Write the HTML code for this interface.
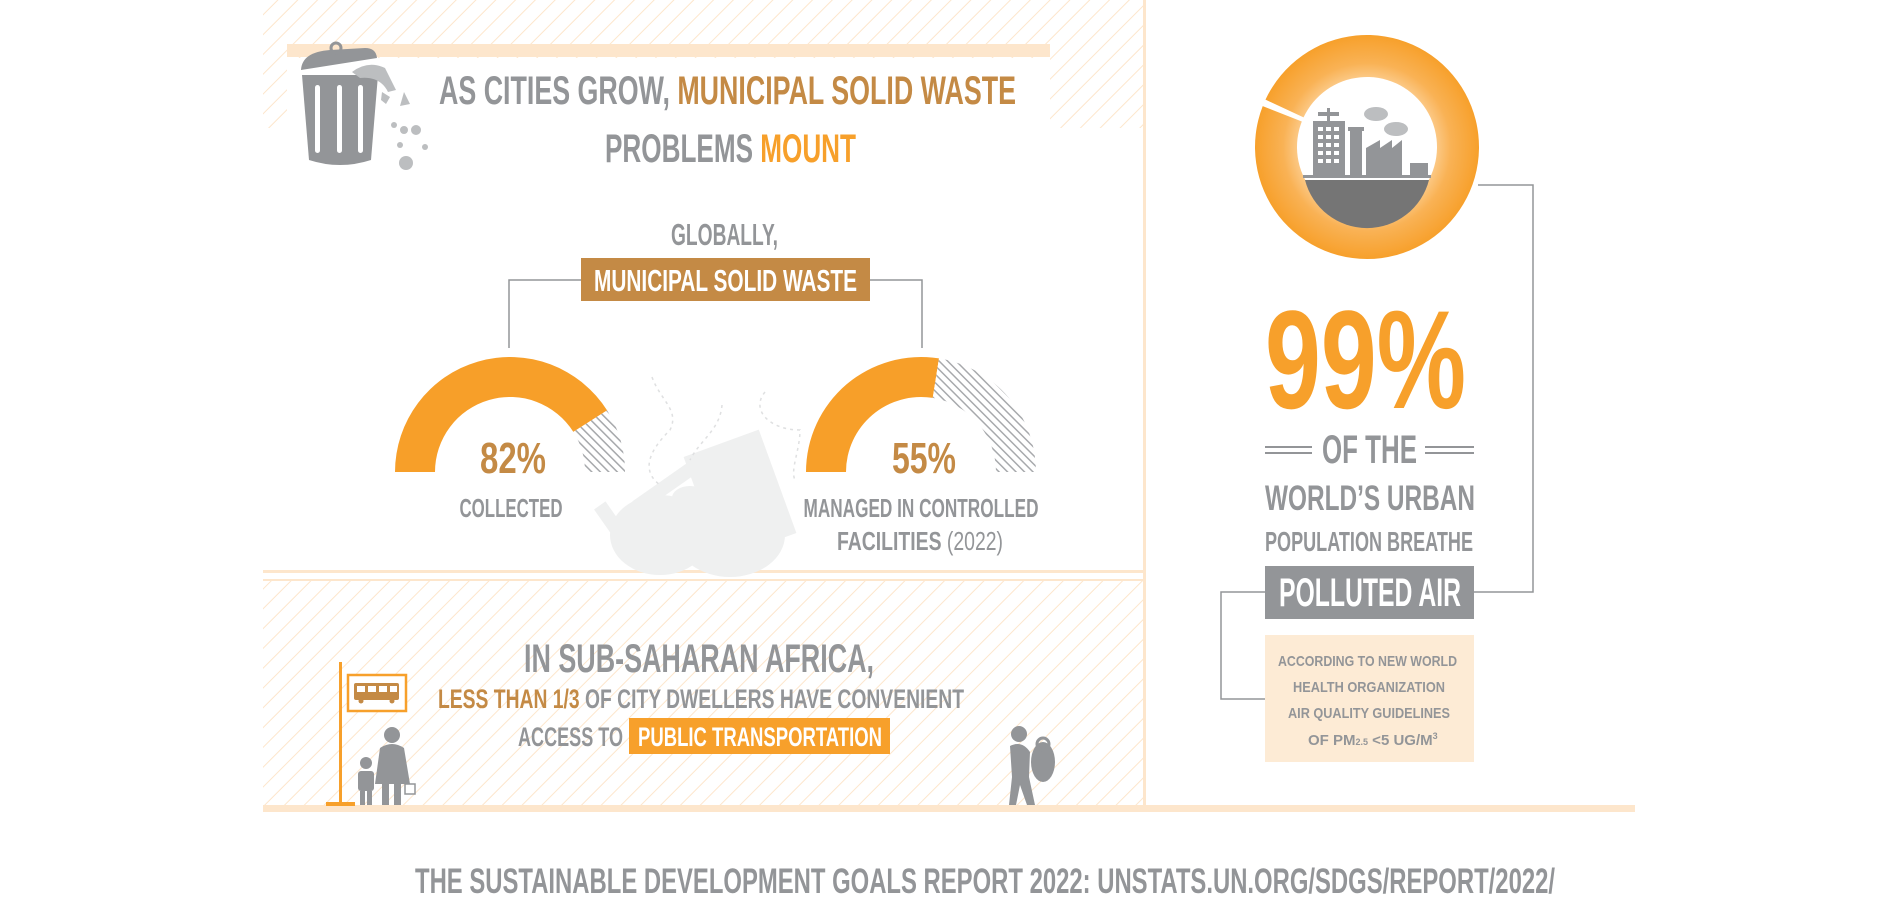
<!DOCTYPE html>
<html><head><meta charset="utf-8">
<style>
html,body{margin:0;padding:0;background:#fff;width:1895px;height:897px;overflow:hidden}
svg{display:block}
text{font-family:"Liberation Sans Narrow","Liberation Sans",sans-serif;font-weight:bold}
</style></head>
<body>
<svg id="chart" width="1895" height="897" viewBox="0 0 1895 897" xmlns="http://www.w3.org/2000/svg">
<defs>
<pattern id="hatchCream" patternUnits="userSpaceOnUse" width="14" height="14" patternTransform="rotate(45)">
<line x1="0" y1="0" x2="0" y2="14" stroke="#fde6cc" stroke-width="2"/>
</pattern>
<pattern id="hatchGray" patternUnits="userSpaceOnUse" width="6" height="6" patternTransform="rotate(-45)">
<rect width="6" height="6" fill="#fff"/>
<line x1="0" y1="0" x2="0" y2="6" stroke="#a7a9ac" stroke-width="3"/>
</pattern>
<radialGradient id="donutGrad" cx="0.5" cy="0.5" r="0.5">
<stop offset="0.55" stop-color="#fdd5a0"/>
<stop offset="0.75" stop-color="#f9b255"/>
<stop offset="1" stop-color="#f7a02b"/>
</radialGradient>
</defs>

<rect x="263" y="0" width="882" height="128" fill="url(#hatchCream)"/>
<rect x="287" y="58" width="763" height="72" fill="#fff"/>
<rect x="287" y="44" width="763" height="13" fill="#fde6cc"/>
<rect x="263" y="580" width="882" height="226" fill="url(#hatchCream)"/>
<rect x="263" y="570" width="882" height="3" fill="#fde6cc"/>
<rect x="263" y="579" width="882" height="2" fill="#fde6cc"/>
<rect x="1143" y="0" width="3" height="806" fill="#fde6cc"/>
<rect x="263" y="805" width="1372" height="7" fill="#fde6cc"/>

<g fill="#eff0f0">
<rect x="700" y="440" width="80" height="110" transform="rotate(-20 740 495)"/>
<rect x="630" y="480" width="70" height="14" transform="rotate(-35 665 487)"/>
<rect x="610" y="500" width="14" height="60" transform="rotate(-35 617 530)"/>
<ellipse cx="660" cy="535" rx="50" ry="40"/>
<ellipse cx="730" cy="535" rx="55" ry="42"/>
<ellipse cx="690" cy="498" rx="18" ry="12"/>
<ellipse cx="745" cy="485" rx="18" ry="12"/>
</g>
<g fill="none" stroke="#dfe0e1" stroke-width="1.5" stroke-dasharray="3 4">
<path d="M652 377 C660 400 680 410 670 430 C650 450 640 470 660 485"/>
<path d="M722 405 C720 430 700 440 690 460"/>
<path d="M765 392 C750 410 770 430 800 430 C800 450 790 470 795 480"/>
</g>

<g>
<path d="M302 75 L378 75 L371 160 Q340 170 309 160 Z" fill="#939598"/>
<rect x="315" y="85" width="5" height="68" rx="2.5" fill="#fff"/>
<rect x="337" y="85" width="5" height="68" rx="2.5" fill="#fff"/>
<rect x="358" y="85" width="5" height="68" rx="2.5" fill="#fff"/>
<path d="M301 70 Q302 52 330 50 L365 48 Q376 48 377 58 Z" fill="#939598"/>
<circle cx="336" cy="48" r="5" fill="none" stroke="#939598" stroke-width="3"/>
<g fill="#bcbec0">
<path d="M352 72 Q368 60 385 68 L396 90 L388 92 Q380 76 360 78 Z"/>
<path d="M382 92 L390 97 L386 104 L381 100 Z"/><path d="M404 92 L410 104 L400 106 Z"/>
<circle cx="394" cy="125" r="3"/><circle cx="404" cy="130" r="4"/><circle cx="416" cy="130" r="5"/>
<circle cx="400" cy="145" r="3"/><circle cx="425" cy="147" r="3"/><circle cx="406" cy="163" r="7"/>
</g>
</g>

<text x="439" y="104" font-size="40" textLength="577" lengthAdjust="spacingAndGlyphs" fill="#939598">AS CITIES GROW, <tspan fill="#c48a45">MUNICIPAL SOLID WASTE</tspan></text>
<text x="605" y="162" font-size="40" textLength="251" lengthAdjust="spacingAndGlyphs" fill="#939598">PROBLEMS <tspan fill="#f7a02b">MOUNT</tspan></text>

<text x="671" y="245" font-size="31" textLength="107" lengthAdjust="spacingAndGlyphs" fill="#939598">GLOBALLY,</text>
<rect x="581" y="258" width="289" height="43" fill="#c48a45"/>
<text x="594" y="291" font-size="31" textLength="263" lengthAdjust="spacingAndGlyphs" fill="#fff">MUNICIPAL SOLID WASTE</text>
<path d="M581 280 H509 V348 M870 280 H922 V348" fill="none" stroke="#939598" stroke-width="1.5"/>

<g id="arcs"></g>

<text x="524" y="672" font-size="40" textLength="350" lengthAdjust="spacingAndGlyphs" fill="#939598">IN SUB-SAHARAN AFRICA,</text>
<text x="438" y="708" font-size="27" textLength="526" lengthAdjust="spacingAndGlyphs" fill="#939598"><tspan fill="#c48a45">LESS THAN 1/3</tspan> OF CITY DWELLERS HAVE CONVENIENT</text>
<text x="518" y="746" font-size="27" textLength="105" lengthAdjust="spacingAndGlyphs" fill="#939598">ACCESS TO</text>
<rect x="629" y="718" width="261" height="36" fill="#f7a02b"/>
<text x="638" y="746" font-size="27" textLength="244" lengthAdjust="spacingAndGlyphs" fill="#fff">PUBLIC TRANSPORTATION</text>

<g>
<rect x="339" y="662" width="3" height="143" fill="#f7a02b"/>
<rect x="326" y="802" width="29" height="4" fill="#f7a02b"/>
<rect x="348" y="675" width="58" height="36" fill="#fff" stroke="#f7a02b" stroke-width="2.5"/>
<rect x="354" y="683" width="45" height="17" rx="2" fill="#c48a45"/>
<rect x="357" y="686" width="8" height="6" fill="#fff"/><rect x="368" y="686" width="8" height="6" fill="#fff"/><rect x="379" y="686" width="8" height="6" fill="#fff"/><rect x="390" y="686" width="7" height="6" fill="#fff"/>
<circle cx="361" cy="701" r="2.5" fill="#c48a45"/><circle cx="392" cy="701" r="2.5" fill="#c48a45"/>
</g>
<g fill="#939598">
<circle cx="392" cy="735" r="8"/>
<path d="M380 748 Q392 740 404 748 L410 784 L375 784 Z"/>
<rect x="382" y="784" width="7" height="21"/><rect x="394" y="784" width="7" height="21"/>
<circle cx="366" cy="763" r="6"/>
<rect x="358" y="771" width="16" height="20" rx="3"/>
<rect x="360" y="791" width="5" height="14"/><rect x="367" y="791" width="5" height="14"/>
<rect x="405" y="784" width="10" height="10" fill="none" stroke="#939598" stroke-width="1.5"/>
</g>
<g fill="#939598">
<circle cx="1019" cy="734" r="8"/>
<ellipse cx="1043" cy="762" rx="12" ry="20"/>
<circle cx="1043" cy="744" r="6" fill="none" stroke="#939598" stroke-width="3"/>
<path d="M1010 746 Q1022 740 1030 752 L1029 777 L1035 805 L1027 805 L1020 785 L1016 805 L1009 805 L1012 777 Z"/>
</g>

<g id="donut"></g>
<g>
<path d="M1305 180 L1429 180 A64 64 0 0 1 1305 180 Z" fill="#757575"/>
<rect x="1303" y="175" width="128" height="3" fill="#939598"/>
<rect x="1313" y="121" width="32" height="55" fill="#939598"/>
<rect x="1327" y="108" width="3" height="14" fill="#939598"/><rect x="1318" y="112" width="21" height="4" fill="#939598"/>
<g fill="#fff"><rect x="1318" y="127" width="5" height="4"/><rect x="1326" y="127" width="5" height="4"/><rect x="1334" y="127" width="5" height="4"/>
<rect x="1318" y="135" width="5" height="4"/><rect x="1326" y="135" width="5" height="4"/><rect x="1334" y="135" width="5" height="4"/>
<rect x="1318" y="143" width="5" height="4"/><rect x="1326" y="143" width="5" height="4"/><rect x="1334" y="143" width="5" height="4"/>
<rect x="1318" y="151" width="5" height="4"/><rect x="1326" y="151" width="5" height="4"/><rect x="1334" y="151" width="5" height="4"/>
<rect x="1318" y="159" width="5" height="4"/><rect x="1326" y="159" width="5" height="4"/><rect x="1334" y="159" width="5" height="4"/></g>
<rect x="1350" y="130" width="12" height="46" fill="#939598"/><rect x="1348" y="127" width="16" height="4" fill="#939598"/>
<path d="M1366 176 L1366 148 L1380 140 L1380 148 L1392 140 L1392 148 L1402 140 L1402 176 Z" fill="#939598"/>
<rect x="1410" y="163" width="18" height="13" fill="#939598"/>
<ellipse cx="1376" cy="114" rx="12" ry="7" fill="#bcbec0"/><ellipse cx="1396" cy="129" rx="12" ry="7" fill="#bcbec0"/>
</g>
<path d="M1478 185 H1533 V592 H1474 M1265 592 H1221 V699 H1265" fill="none" stroke="#939598" stroke-width="1.5"/>

<text x="1265" y="408" font-size="140" font-family="Liberation Sans,sans-serif" textLength="201" lengthAdjust="spacingAndGlyphs" fill="#f7a02b">99%</text>
<g stroke="#939598" stroke-width="2">
<line x1="1265" y1="447" x2="1312" y2="447"/><line x1="1265" y1="453" x2="1312" y2="453"/>
<line x1="1425" y1="447" x2="1474" y2="447"/><line x1="1425" y1="453" x2="1474" y2="453"/>
</g>
<text x="1322" y="463" font-size="40" font-family="Liberation Sans,sans-serif" textLength="95" lengthAdjust="spacingAndGlyphs" fill="#939598">OF THE</text>
<text x="1265" y="510" font-size="35" font-family="Liberation Sans,sans-serif" textLength="210" lengthAdjust="spacingAndGlyphs" fill="#939598">WORLD’S URBAN</text>
<text x="1265" y="551" font-size="28" font-family="Liberation Sans,sans-serif" textLength="208" lengthAdjust="spacingAndGlyphs" fill="#939598">POPULATION BREATHE</text>
<rect x="1265" y="566" width="209" height="53" fill="#939598"/>
<text x="1279" y="606" font-size="40" font-family="Liberation Sans,sans-serif" textLength="182" lengthAdjust="spacingAndGlyphs" fill="#fff">POLLUTED AIR</text>
<rect x="1265" y="635" width="209" height="127" fill="#fdebd5"/>
<g font-family="Liberation Sans,sans-serif" font-size="15" fill="#939598">
<text x="1278" y="666" textLength="179" lengthAdjust="spacingAndGlyphs">ACCORDING TO NEW WORLD</text>
<text x="1293" y="692" textLength="152" lengthAdjust="spacingAndGlyphs">HEALTH ORGANIZATION</text>
<text x="1288" y="718" textLength="162" lengthAdjust="spacingAndGlyphs">AIR QUALITY GUIDELINES</text>
<text x="1308" y="745">OF PM<tspan font-size="9">2.5</tspan> &lt;5 UG/M<tspan font-size="9" dy="-6">3</tspan></text>
</g>

<text x="415" y="893" font-size="35" textLength="1140" lengthAdjust="spacingAndGlyphs" fill="#939598">THE SUSTAINABLE DEVELOPMENT GOALS REPORT 2022: UNSTATS.UN.ORG/SDGS/REPORT/2022/</text>
</svg>

<script>
const gaugeLabels = ["82%", "55%"];
const gaugeValues = [82, 55];
const gaugeCaptions = [["COLLECTED"], ["MANAGED IN CONTROLLED", "FACILITIES (2022)"]];
const airValue = [99];

const NS = "http://www.w3.org/2000/svg";
function mk(tag, attrs, parent) {
  const e = document.createElementNS(NS, tag);
  for (const k in attrs) e.setAttribute(k, attrs[k]);
  parent.appendChild(e);
  return e;
}
const gCx = [510, 921], gCy = 472, rOut = 115, rIn = 75;
function pt(cx, cy, r, a) { return [cx + r * Math.cos(a), cy - r * Math.sin(a)]; }
function arcPath(cx, cy, a0, a1, ro, ri) {
  const p0 = pt(cx, cy, ro, a0), p1 = pt(cx, cy, ro, a1), p2 = pt(cx, cy, ri, a1), p3 = pt(cx, cy, ri, a0);
  const large = Math.abs(a0 - a1) > Math.PI ? 1 : 0;
  const sweepOut = a1 < a0 ? 1 : 0;
  return `M${p0[0]} ${p0[1]} A${ro} ${ro} 0 ${large} ${sweepOut} ${p1[0]} ${p1[1]} L${p2[0]} ${p2[1]} A${ri} ${ri} 0 ${large} ${1 - sweepOut} ${p3[0]} ${p3[1]} Z`;
}
const arcs = document.getElementById("arcs");
const capX = [[511], [921, 920]], capY = [[517], [517, 550]], capW = [[103], [235, 166]], pctW = [66, 64];
gaugeValues.forEach((v, i) => {
  const split = Math.PI - (v / 100) * Math.PI;
  const o = mk("path", { d: arcPath(gCx[i], gCy, Math.PI, split, rOut, rIn), fill: "#f79f29" }, arcs);
  
  
  const r = mk("path", { d: arcPath(gCx[i], gCy, split, 0, rOut, rIn), fill: "url(#hatchGray)" }, arcs);
  
  
  const t = mk("text", { x: gCx[i] + 3, y: 473, "font-size": 44, fill: "#c48a45", "text-anchor": "middle", textLength: pctW[i], lengthAdjust: "spacingAndGlyphs" }, arcs);
  t.textContent = gaugeLabels[i];
  
  
  gaugeCaptions[i].forEach((c, j) => {
    const ct = mk("text", { x: capX[i][j], y: capY[i][j], "font-size": 26, fill: "#939598", "text-anchor": "middle", textLength: capW[i][j], lengthAdjust: "spacingAndGlyphs" }, arcs);
    if (c.indexOf("(2022)") >= 0) {
      ct.textContent = "FACILITIES ";
      const ts = mk("tspan", { "font-weight": "normal" }, ct);
      ts.textContent = "(2022)";
    } else ct.textContent = c;
    
    
  });
});
const donut = document.getElementById("donut");
const dCx = 1367, dCy = 147, dRo = 112, dRi = 70;
const start = 155 * Math.PI / 180;
const end = start - (airValue[0] / 100) * 2 * Math.PI;
const dp = mk("path", { d: arcPath(dCx, dCy, start, end, dRo, dRi), fill: "url(#donutGrad)" }, donut);


const dc = mk("circle", { cx: dCx, cy: dCy, r: 67, fill: "#fff" }, donut);


</script>
</body></html>
